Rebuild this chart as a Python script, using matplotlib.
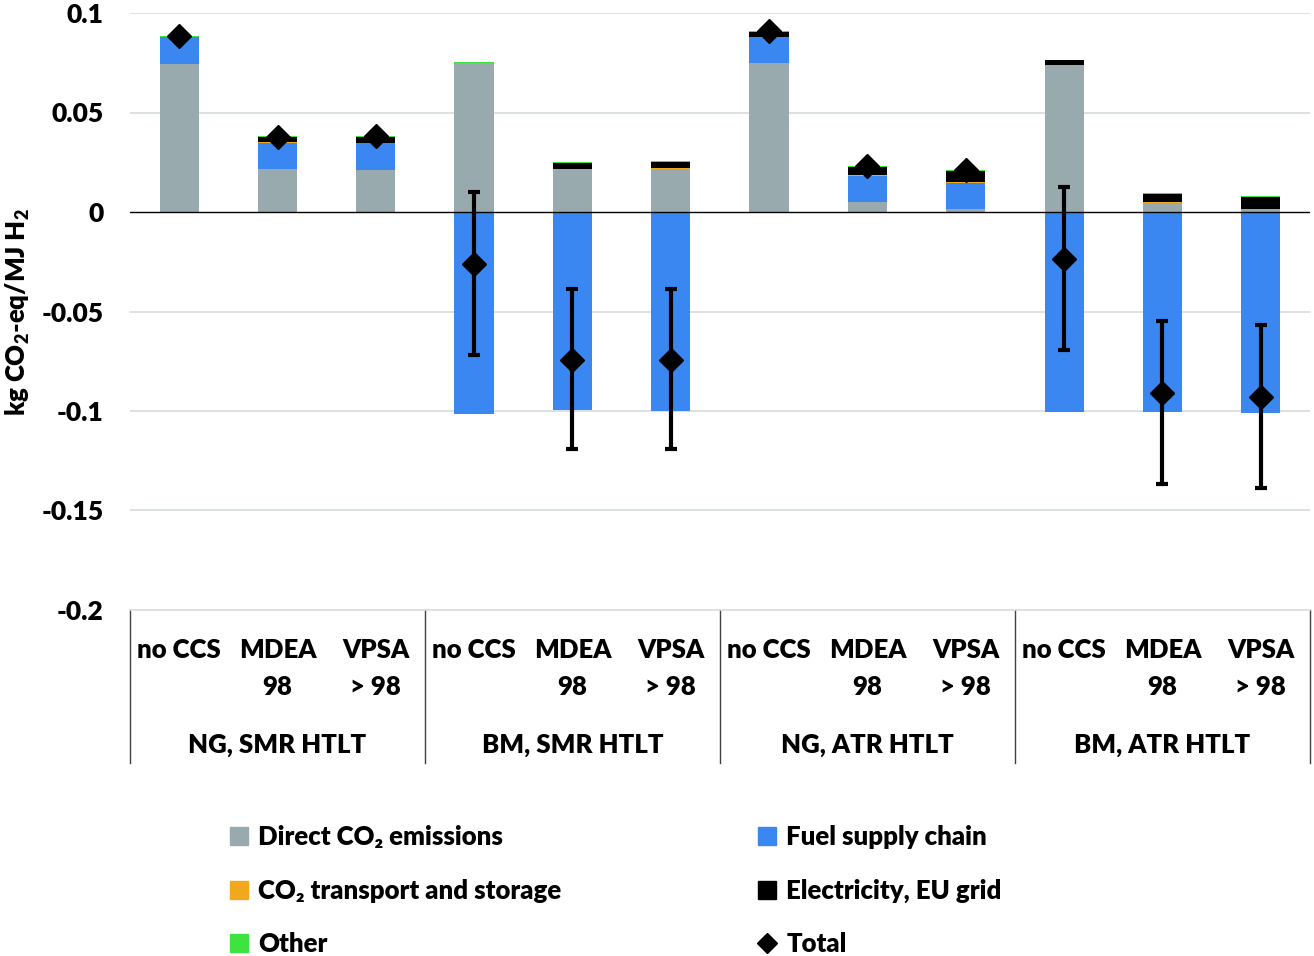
import numpy as np
import matplotlib
matplotlib.use("Agg")
import matplotlib.pyplot as plt
from matplotlib.patches import Patch
from matplotlib.lines import Line2D

plt.rcParams['font.family'] = ['Lato', 'DejaVu Sans']
plt.rcParams['font.weight'] = 'heavy'
plt.rcParams['mathtext.fontset'] = 'custom'
plt.rcParams['mathtext.rm'] = 'Lato:heavy'
plt.rcParams['mathtext.it'] = 'Lato:heavy'
plt.rcParams['mathtext.bf'] = 'Lato:heavy'

# 数据
cats = ["no CCS", "MDEA\n98", "VPSA\n> 98"] * 4
groups = ["NG, SMR HTLT", "BM, SMR HTLT", "NG, ATR HTLT", "BM, ATR HTLT"]

direct = [0.0745, 0.0217, 0.0213, 0.0748, 0.0215, 0.0216, 0.0750, 0.0049, 0.0013, 0.0738, 0.0045, 0.0013]
fuel = [0.0133, 0.0132, 0.0133, -0.1015, -0.0993, -0.0998, 0.0129, 0.0132, 0.0133, -0.1005, -0.1003, -0.1008]
transport = [0.0, 0.0003, 0.0003, 0.0, 0.0003, 0.0003, 0.0, 0.0003, 0.0003, 0.0, 0.0004, 0.0003]
elec = [0.0, 0.0024, 0.0030, 0.0001, 0.0027, 0.0031, 0.0025, 0.0041, 0.0059, 0.0024, 0.0043, 0.0058]
other = [0.0004, 0.0004, 0.0004, 0.0004, 0.0004, 0.0004, 0.0004, 0.0004, 0.0004, 0.0004, 0.0004, 0.0004]
total = [0.0883, 0.0378, 0.0381, -0.0259, -0.0742, -0.0742, 0.0908, 0.0233, 0.0211, -0.0237, -0.0911, -0.0931]
err_top = [None, None, None, 0.0103, -0.0386, -0.0386, None, None, None, 0.0124, -0.0550, -0.0570]
err_bot = [None, None, None, -0.0717, -0.1192, -0.1192, None, None, None, -0.0693, -0.1366, -0.1389]

c_direct = '#99AAAF'
c_fuel = '#3B87F2'
c_trans = '#F2A81D'
c_elec = '#000000'
c_other = '#3FE33F'

fig = plt.figure(figsize=(13.14, 9.56), dpi=100)
W, H = 1314, 956
ax = fig.add_axes([130 / W, 1 - 610 / H, 1180 / W, 597 / H])

x = np.arange(len(cats))
w = 0.4
direct = np.array(direct)
fuel = np.array(fuel)
pos_fuel = np.where(fuel > 0, fuel, 0)
neg_fuel = np.where(fuel < 0, fuel, 0)

ax.bar(x, direct, w, color=c_direct, zorder=2)
ax.bar(x, pos_fuel, w, bottom=direct, color=c_fuel, zorder=2)
ax.bar(x, neg_fuel, w, color=c_fuel, zorder=2)
base = direct + pos_fuel
ax.bar(x, transport, w, bottom=base, color=c_trans, zorder=2)
base = base + np.array(transport)
ax.bar(x, elec, w, bottom=base, color=c_elec, zorder=2)
base = base + np.array(elec)
ax.bar(x, other, w, bottom=base, color=c_other, zorder=2)

# 误差棒
for i in range(len(cats)):
    if err_top[i] is not None:
        ax.errorbar(x[i], total[i], yerr=[[total[i] - err_bot[i]], [err_top[i] - total[i]]],
                    fmt='none', ecolor='black', elinewidth=3, capsize=4.5, capthick=3, zorder=3)
ax.plot(x, total, 'D', color='black', markersize=12, zorder=4)

ax.set_xlim(-0.5, len(cats) - 0.5)
ax.set_ylim(-0.2, 0.1)
ax.set_yticks([0.1, 0.05, 0, -0.05, -0.1, -0.15, -0.2])
ax.set_yticklabels(['0.1', '0.05', '0', '-0.05', '-0.1', '-0.15', '-0.2'])
ax.tick_params(axis='y', length=0, pad=19, labelsize=19)
ax.set_xticks([])
for yv in [0.1, 0.05, -0.05, -0.1, -0.15]:
    ax.axhline(yv, color='#D5DCDF', lw=1.2, zorder=1)
ax.axhline(0, color='black', lw=1, zorder=2.5)
for s in ['top', 'right', 'left']:
    ax.spines[s].set_visible(False)
ax.spines['bottom'].set_color('#D5DCDF')
ax.spines['bottom'].set_linewidth(1.2)

# 分类标签
tr = ax.get_xaxis_transform()
for i, c in enumerate(cats):
    lines = c.split("\n")
    ax.text(x[i], (610 - 650) / 597, lines[0], transform=tr, ha='center', va='center', fontsize=18.5)
    if len(lines) > 1:
        ax.text(x[i], (610 - 687) / 597, lines[1], transform=tr, ha='center', va='center', fontsize=18.5)
for g, name in enumerate(groups):
    ax.text(3 * g + 1, (610 - 745) / 597, name, transform=tr, ha='center', va='center', fontsize=18.5)
for b in [-0.5, 2.5, 5.5, 8.5, 11.5]:
    ax.plot([b, b], [0, (610 - 763) / 597], transform=tr, color='#404040', lw=1, clip_on=False)

fig.text(18 / W, 1 - 312 / H, 'kg CO$_2$-eq/MJ H$_2$', rotation=90, ha='center', va='center', fontsize=18.5)

# 图例
leg_kw = dict(frameon=False, borderpad=0, borderaxespad=0, handlelength=0.7, handleheight=0.7,
              handletextpad=0.4, labelspacing=1.15, prop={'weight': 'heavy', 'size': 18.5})
h1 = [Patch(color=c_direct), Patch(color=c_trans), Patch(color=c_other)]
l1 = ['Direct CO₂ emissions', 'CO₂ transport and storage', 'Other']
fig.legend(h1, l1, loc='upper left', bbox_to_anchor=(230 / W, 1 - 825 / H), **leg_kw)
h2 = [Patch(color=c_fuel), Patch(color=c_elec),
      Line2D([], [], marker='D', color='black', linestyle='none', markersize=10)]
l2 = ['Fuel supply chain', 'Electricity, EU grid', 'Total']
fig.legend(h2, l2, loc='upper left', bbox_to_anchor=(758 / W, 1 - 825 / H), **leg_kw)

fig.savefig('out.png', dpi=100)
